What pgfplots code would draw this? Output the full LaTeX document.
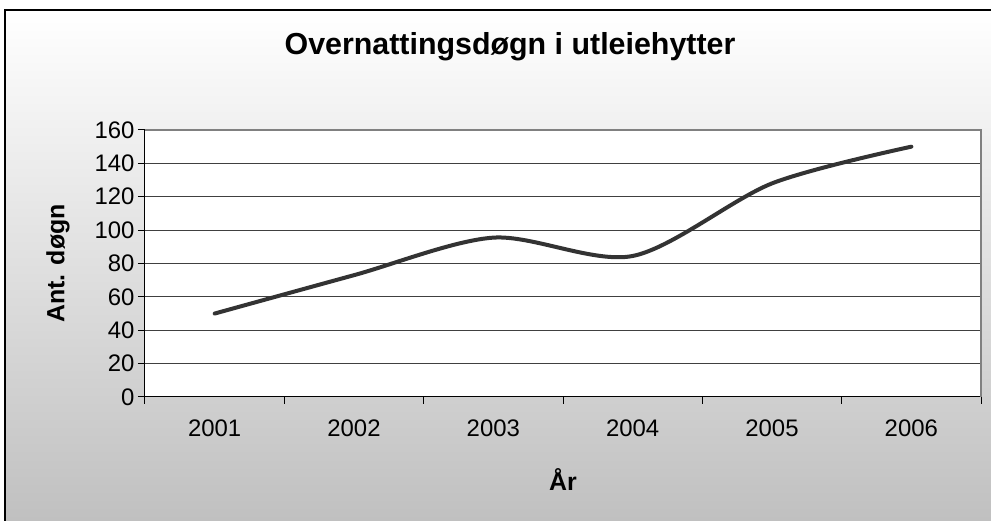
\documentclass[border=0pt]{standalone}
\usepackage{pgfplots}
\pgfplotsset{compat=1.18}
\usepackage{fontspec}
\setmainfont{Liberation Sans}
\begin{document}
\begin{tikzpicture}[x=1bp,y=1bp]
\useasboundingbox (-145,-124) rectangle (846,397);
\begin{scope}
\clip (-145,-124) rectangle (846,397);
\fill[white] (-145,-124) rectangle (846,397);
\shade[top color=white, bottom color=gray!50] (-140,-130) rectangle (860,387);
\draw[black, line width=1.2bp] (-140,-130) rectangle (860,387);
\end{scope}
\node[font=\bfseries\fontsize{30.5}{32}\selectfont] at (365,350) {Overnattingsdøgn i utleiehytter};
\begin{axis}[
  scale only axis, width=836bp, height=267bp, at={(0,0)}, anchor=south west,
  axis background/.style={fill=white},
  xmin=0.5, xmax=6.5, ymin=0, ymax=160,
  ytick={0,20,...,160},
  xtick={0.5,1.5,...,6.5},
  xticklabels={2001,2002,2003,2004,2005,2006},
  x tick label as interval,
  axis lines=left, axis line style={-, black, line width=1bp},
  tick align=outside, major tick length=7bp,
  tick style={black, line width=1bp},
  ymajorgrids, grid style={black!75, line width=1bp},
  ticklabel style={font=\fontsize{24}{26}\selectfont},
  /pgf/number format/assume math mode=true,
  xticklabel style={yshift=-12bp},
  xlabel={År}, ylabel={Ant. døgn},
  label style={font=\bfseries\fontsize{25}{27}\selectfont},
  xlabel style={at={(rel axis cs:0.5,0)}, anchor=center, yshift=-83bp},
  ylabel style={at={(rel axis cs:0,0.5)}, anchor=center, yshift=87bp},
  clip=false,
]
\draw[gray, line width=1.5bp] (rel axis cs:0,1) -- (rel axis cs:1,1) -- (rel axis cs:1,0);
\addplot[black!80, line width=4bp, smooth, tension=0.5, line cap=round, line join=round]
  coordinates {(1,50) (2,73) (3,95.5) (4,84.5) (5,128) (6,150)};
\end{axis}
\end{tikzpicture}
\end{document}
